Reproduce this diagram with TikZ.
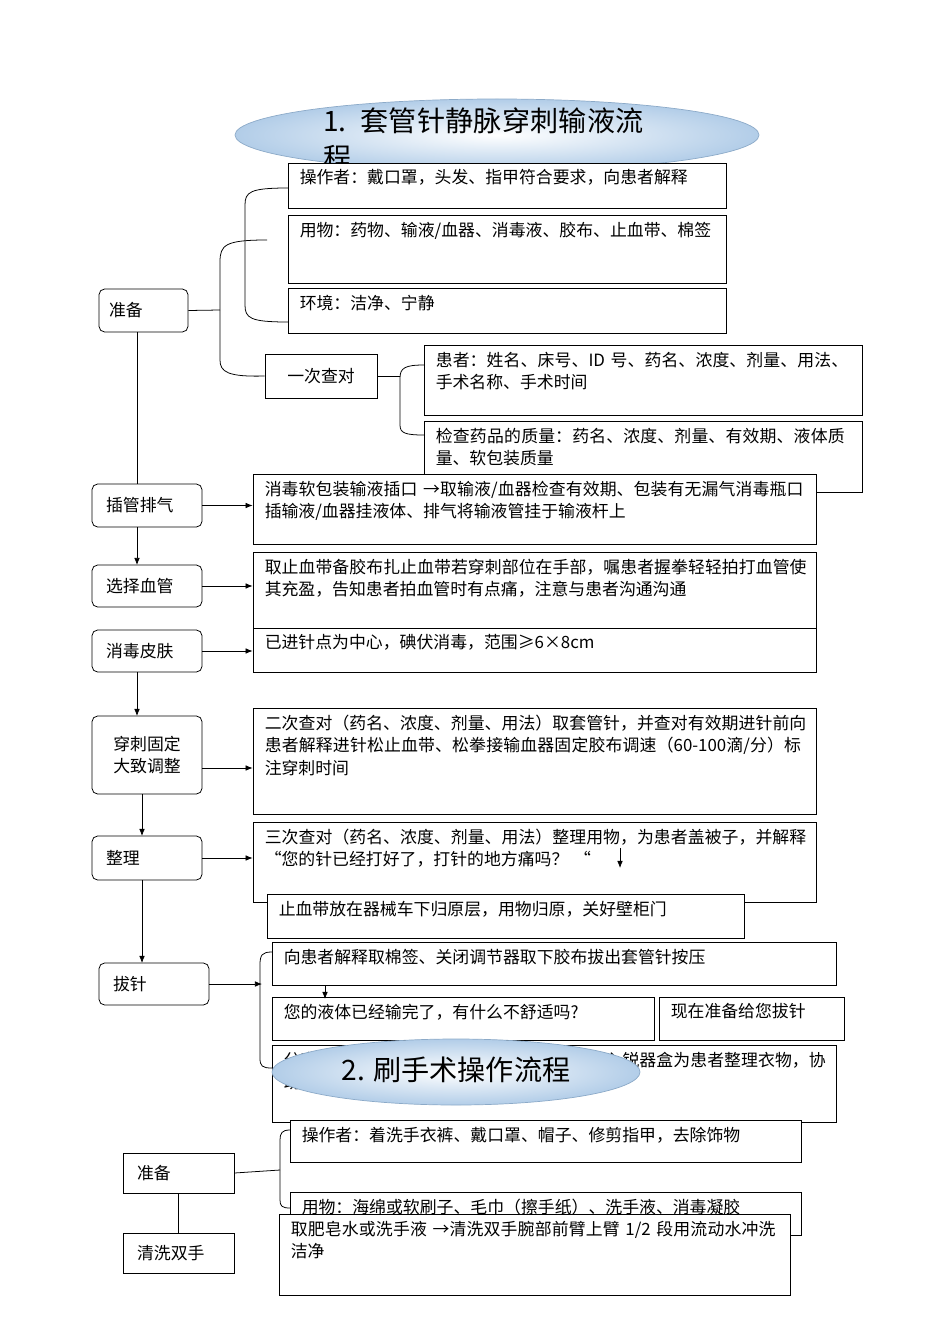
\documentclass[tikz,border=0pt]{standalone}
\usepackage{fontspec}
\setmainfont{Noto Sans CJK SC}
\XeTeXlinebreaklocale "zh"
\XeTeXlinebreakskip=0pt plus 1pt
\usetikzlibrary{fit,calc,arrows.meta,shadings}
\newcommand{\tbox}[6]{%
 \path (#2,#3) coordinate (#1a) (#4,#5) coordinate (#1b);
 \node[rbox,fit=(#1a)(#1b)] (#1) {};
 \pgfmathsetmacro\tw{(#4-#2-18)*0.05}
 \node[anchor=north west,text width=\tw cm,align=left,inner sep=0pt] at ($(#1.north west)+(12,7)$) {#6};}
\newcommand{\shbox}[6]{%
 \path (#2,#3) coordinate (#1a) (#4,#5) coordinate (#1b);
 \node[#6,fit=(#1a)(#1b)] (#1) {};}
\begin{document}
\begin{tikzpicture}[x=0.05cm,y=-0.05cm,font=\fontsize{24}{32}\selectfont,
 rbox/.style={draw,line width=1.1pt,fill=white,inner sep=0pt},
 step box/.style={draw,line width=1.1pt,fill=white,inner sep=0pt,rounded corners=8pt},
 sq box/.style={draw,line width=1.1pt,fill=white,inner sep=0pt},
 ln/.style={line width=1.1pt},
 arr/.style={line width=1.1pt,-{Latex[length=10pt,width=8pt]}}]
\useasboundingbox (0,0) rectangle (950,1344);
% title 1
\shade[inner color=white,outer color={rgb,255:red,178;green,205;blue,232}] (497,135) ellipse [x radius=262,y radius=36];
\draw[line width=1pt,color={rgb,255:red,140;green,170;blue,200}] (497,135) ellipse [x radius=262,y radius=36];
\node[anchor=north west,text width=335*0.05cm,align=left,inner sep=0pt,font=\fontsize{40}{52}\selectfont] (t1) at (323,108) {1. 套管针静脉穿刺输液流程};
% prep
\tbox{a1}{288}{163}{726}{208}{操作者：戴口罩，头发、指甲符合要求，向患者解释}
\tbox{a2}{288}{215}{726}{283}{用物：药物、输液/血器、消毒液、胶布、止血带、棉签}
\tbox{a3}{288}{288}{726}{333}{环境：洁净、宁静}
\shbox{zb}{99}{289}{188}{332}{step box}
\node[anchor=west] at ($(zb.west)+(8,0)$) {准备};
\shbox{yc}{265}{354}{377}{398}{sq box}
\node at (yc) {一次查对};
\draw[ln] (zb.east) -- (220,310);
\draw[ln] (267,240) .. controls (225,240) and (220,245) .. (220,262) -- (220,360) .. controls (220,372) and (228,377) .. (yc.west);
\draw[ln] (288,188) .. controls (250,188) and (245,192) .. (245,205) -- (245,305) .. controls (245,318) and (250,322) .. (288,322);
\tbox{b1}{424}{345}{862}{415}{患者：姓名、床号、ID 号、药名、浓度、剂量、用法、手术名称、手术时间}
\tbox{b2}{424}{421}{862}{492}{检查药品的质量：药名、浓度、剂量、有效期、液体质量、软包装质量}
\draw[ln] (yc.east) -- (400,376);
\draw[ln] (424,365) .. controls (405,365) and (400,368) .. (400,378) -- (400,425) .. controls (400,433) and (405,435) .. (424,435);
% steps
\shbox{s1}{92}{484}{202}{527}{step box}\node[anchor=west] at ($(s1.west)+(12,0)$) {插管排气};
\tbox{c1}{253}{474}{816}{544}{消毒软包装输液插口 →取输液/血器检查有效期、包装有无漏气消毒瓶口插输液/血器挂液体、排气将输液管挂于输液杆上}
\draw[ln] (137,332) -- (137,484);
\draw[arr] (s1.east) -- (s1.east-|c1.west);
\shbox{s2}{92}{565}{202}{607}{step box}\node[anchor=west] at ($(s2.west)+(12,0)$) {选择血管};
\tbox{c2}{253}{552}{816}{628}{取止血带备胶布扎止血带若穿刺部位在手部，嘱患者握拳轻轻拍打血管使其充盈，告知患者拍血管时有点痛，注意与患者沟通沟通}
\draw[arr] (137,527) -- (137,565);
\draw[arr] (s2.east) -- (s2.east-|c2.west);
\shbox{s3}{92}{630}{202}{672}{step box}\node[anchor=west] at ($(s3.west)+(12,0)$) {消毒皮肤};
\tbox{c3}{253}{628}{816}{672}{已进针点为中心，碘伏消毒，范围≥6×8cm}
\draw[arr] (s3.east) -- (s3.east-|c3.west);
\shbox{s4}{92}{716}{202}{794}{step box}\node[align=center] at (s4) {穿刺固定\\大致调整};
\tbox{c4}{253}{708}{816}{814}{二次查对（药名、浓度、剂量、用法）取套管针，并查对有效期进针前向患者解释进针松止血带、松拳接输血器固定胶布调速（60-100滴/分）标注穿刺时间}
\draw[arr] (137,672) -- (137,716);
\draw[arr] (202,768) -- (c4.west|-202,768);
\shbox{s5}{92}{836}{202}{880}{step box}\node[anchor=west] at ($(s5.west)+(12,0)$) {整理};
\tbox{c5}{253}{822}{816}{902}{三次查对（药名、浓度、剂量、用法）整理用物，为患者盖被子，并解释\hspace{6em}“您的针已经打好了，打针的地方痛吗？ “}
\coordinate (p1) at (620,848); \coordinate (p2) at (620,868);
\draw[arr] (p1) -- (p2);
\draw[arr] (142,794) -- (142,836);
\draw[arr] (s5.east) -- (c5.west|-s5.east);
\tbox{c6}{267}{894}{744}{938}{止血带放在器械车下归原层，用物归原，关好壁柜门}
\shbox{s6}{99}{963}{209}{1005}{step box}\node[anchor=west] at ($(s6.west)+(12,0)$) {拔针};
\draw[arr] (142,880) -- (142,963);
\coordinate (bb) at (262,984);
\draw[arr] (s6.east) -- (bb);
\draw[ln] (272,952) .. controls (262,952) and (260,955) .. (260,965) -- (260,1058) .. controls (260,1066) and (262,1068) .. (272,1068);
\tbox{d1}{272}{942}{836}{985}{向患者解释取棉签、关闭调节器取下胶布拔出套管针按压}
\tbox{d2}{272}{997}{654}{1040}{您的液体已经输完了，有什么不舒适吗?}
\tbox{d3}{659}{997}{844}{1040}{现在准备给您拔针}
\coordinate (q1) at (325,985); \coordinate (q2) at (325,999);
\draw[arr] (q1) -- (q2);
\tbox{d4}{272}{1045}{836}{1122}{分离输液器，输液器与套管针（含针头）置入锐器盒为患者整理衣物，协助舒适卧位（将手房回身体旁）}
% title 2
\shade[inner color=white,outer color={rgb,255:red,178;green,205;blue,232}] (456,1072) ellipse [x radius=184,y radius=33];
\draw[line width=1pt,color={rgb,255:red,140;green,170;blue,200}] (456,1072) ellipse [x radius=184,y radius=33];
\node[font=\fontsize{40}{52}\selectfont] (t2) at (456,1070) {2. 刷手术操作流程};
% part 2
\tbox{e1}{290}{1120}{801}{1162}{操作者：着洗手衣裤、戴口罩、帽子、修剪指甲，去除饰物}
\tbox{e2}{290}{1192}{801}{1235}{用物：海绵或软刷子、毛巾（擦手纸）、洗手液、消毒凝胶}
\tbox{e3}{279}{1214}{790}{1295}{取肥皂水或洗手液 →清洗双手腕部前臂上臂 1/2 段用流动水冲洗洁净}
\shbox{f1}{123}{1153}{234}{1193}{sq box}\node[anchor=west] at ($(f1.west)+(12,0)$) {准备};
\shbox{f2}{123}{1233}{234}{1273}{sq box}\node[anchor=west] at ($(f2.west)+(12,0)$) {清洗双手};
\draw[ln] (f1.east) -- (280,1170);
\draw[ln] (290,1130) .. controls (282,1130) and (280,1133) .. (280,1140) -- (280,1200) .. controls (280,1206) and (282,1208) .. (290,1208);
\draw[ln] (f1.south) -- (f2.north);
\end{tikzpicture}
\end{document}
